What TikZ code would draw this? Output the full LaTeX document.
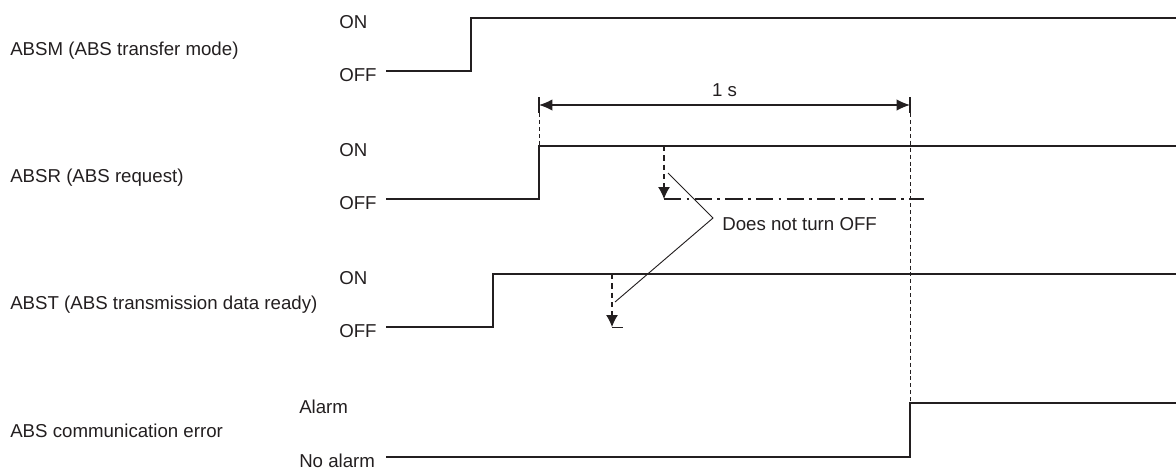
\documentclass[tikz,border=0pt]{standalone}
\usepackage{fontspec}
\setmainfont{Liberation Sans}
\usetikzlibrary{arrows.meta}
\definecolor{ink}{RGB}{35,31,32}
\tikzset{
  sig/.style={draw=ink, line width=1pt},
  txt/.style={anchor=base west, inner sep=0pt, text=ink, font=\fontsize{14}{17}\selectfont},
  guide/.style={draw=ink, line width=0.7pt, dash pattern=on 3pt off 2.2pt},
  dimarrow/.style={draw=ink, line width=0.9pt, {Latex[length=10pt,width=8.5pt]}-{Latex[length=10pt,width=8.5pt]}},
  dnarrow/.style={draw=ink, line width=0.8pt, dash pattern=on 4pt off 3pt, -{Latex[length=9pt,width=9pt]}},
  dashdot/.style={draw=ink, line width=0.8pt, dash pattern=on 13pt off 4pt on 2pt off 4pt},
  callout/.style={draw=ink, line width=0.7pt},
  tick/.style={draw=ink, line width=0.8pt}
}
\begin{document}
\begin{tikzpicture}[x=0.75pt,y=-0.75pt]
\useasboundingbox (0,0) rectangle (1176,472);
% labels
\node[txt] (absm) at (10,55) {ABSM (ABS transfer mode)};
\node[txt] (absmon) at (339,28) {ON};
\node[txt] (absmoff) at (339,81) {OFF};
\node[txt] (absr) at (10,182) {ABSR (ABS request)};
\node[txt] (absron) at (339,156) {ON};
\node[txt] (absroff) at (339,209) {OFF};
\node[txt] (abst) at (10,309) {ABST (ABS transmission data ready)};
\node[txt] (abston) at (339,284) {ON};
\node[txt] (abstoff) at (339,337) {OFF};
\node[txt] (err) at (10,437) {ABS communication error};
\node[txt] (erron) at (299,413) {Alarm};
\node[txt] (erroff) at (299,467) {No alarm};
% coordinates
\coordinate (m0) at (386,71);  \coordinate (m1) at (471,71);
\coordinate (m2) at (471,18);  \coordinate (m3) at (1176,18);
\coordinate (r0) at (386,199); \coordinate (r1) at (539,199);
\coordinate (r2) at (539,146); \coordinate (r3) at (1176,146);
\coordinate (t0) at (386,327); \coordinate (t1) at (493,327);
\coordinate (t2) at (493,274); \coordinate (t3) at (1176,274);
\coordinate (e0) at (386,457); \coordinate (e1) at (910,457);
\coordinate (e2) at (910,403); \coordinate (e3) at (1176,403);
% signals
\draw[sig] (m0) -- (m1) -- (m2) -- (m3);
\draw[sig] (r0) -- (r1) -- (r2) -- (r3);
\draw[sig] (t0) -- (t1) -- (t2) -- (t3);
\draw[sig] (e0) -- (e1) -- (e2) -- (e3);
% 1 s dimension
\coordinate (dL) at (539,105); \coordinate (dR) at (910,105);
\coordinate (dLt) at (539,97);  \coordinate (dLb) at (539,113);
\coordinate (dRt) at (910,97);  \coordinate (dRb) at (910,113);
\draw[tick] (dLt) -- (dLb);
\draw[tick] (dRt) -- (dRb);
\draw[dimarrow] (dL) -- (dR) node[midway, above=6pt, inner sep=0pt, text=ink, font=\fontsize{14}{17}\selectfont] (ones) {1 s};
\draw[guide] (dLb) -- (r2);
\draw[guide] (dRb) -- (e2);
% does not turn off
\coordinate (ra0) at (664,146); \coordinate (ra1) at (664,199);
\coordinate (ra2) at (924,199);
\draw[dnarrow] (ra0) -- (ra1);
\draw[dashdot] (ra1) -- (ra2);
\coordinate (ta0) at (612,274); \coordinate (ta1) at (612,327);
\coordinate (ta2) at (623,327);
\draw[dnarrow] (ta0) -- (ta1);
\draw[callout] (ta1) -- (ta2);
\node[txt] (dnto) at (722,230) {Does not turn OFF};
\coordinate (c0) at (668,173); \coordinate (c1) at (713,218); \coordinate (c2) at (615,302);
\draw[callout] (c0) -- (c1) -- (c2);
\end{tikzpicture}
\end{document}
